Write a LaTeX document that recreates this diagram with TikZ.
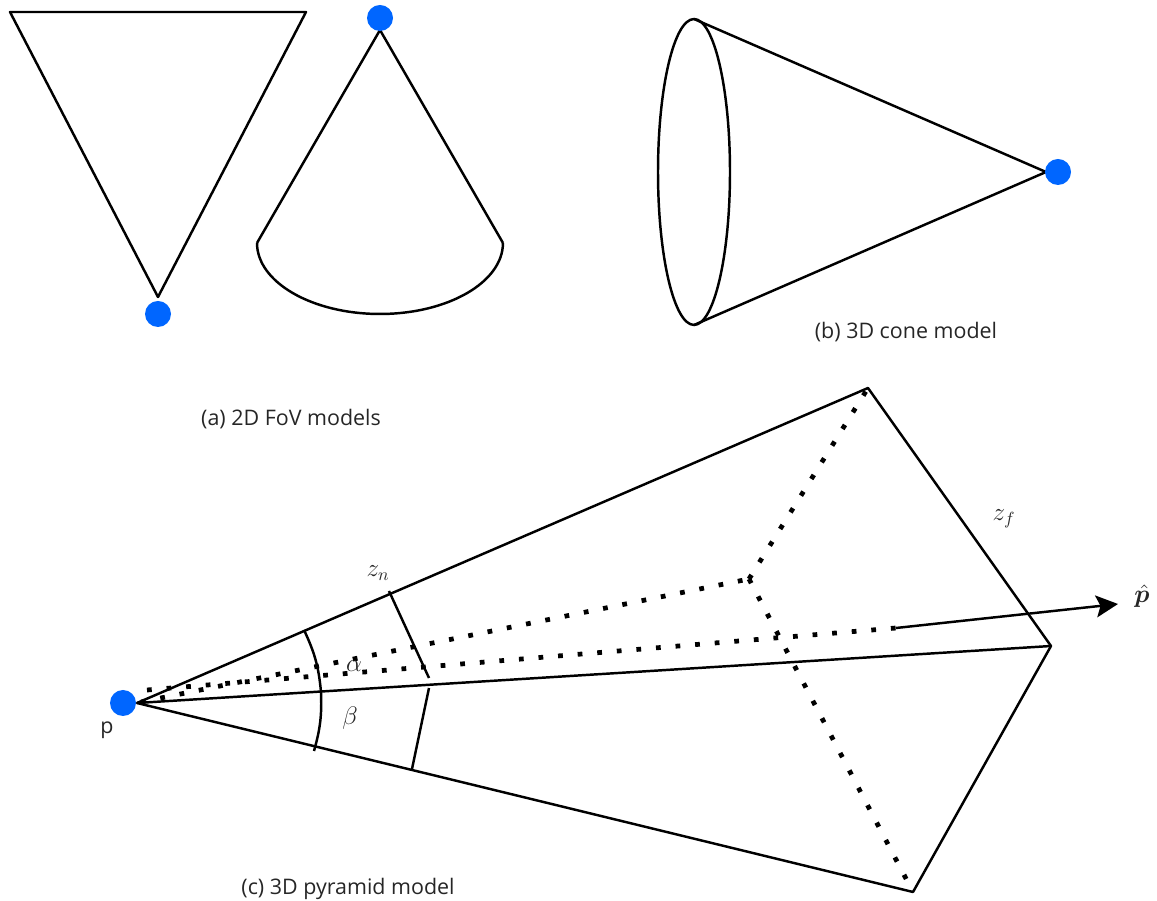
\documentclass[tikz,border=0pt]{standalone}
\usepackage{amsmath,bm}
\usepackage{fontspec}
\setmainfont{Open Sans}
\usetikzlibrary{arrows.meta}
\definecolor{pointblue}{RGB}{0,102,255}
\tikzset{
  modelline/.style={draw=black,line width=1.4pt,line join=round},
  dotline/.style={draw=black,line width=2.7pt,dash pattern=on 2.7pt off 8.48pt},
  axisarrow/.style={modelline,-{Stealth[length=12.5pt,width=12.5pt,inset=2.5pt]}},
  pointdot/.style={circle,fill=pointblue,inner sep=0pt,minimum size=14.8pt},
  caption/.style={font=\fontsize{12.2}{15}\selectfont,text=black!85,inner sep=0pt},
  mathlabel/.style={font=\fontsize{14}{17}\selectfont,text=black!85,inner sep=0pt}
}
\begin{document}
\begin{tikzpicture}[x=0.02cm,y=-0.02cm]
  \useasboundingbox (0,0) rectangle (1157,901);
  % (a) 2D FoV models
  \coordinate (triL) at (10,12);
  \coordinate (triR) at (306,12);
  \coordinate (triB) at (158,297);
  \draw[modelline] (triL) -- (triR) -- (triB) -- cycle;
  \node[pointdot] (triDot) at (158,314) {};
  \coordinate (secApex) at (380,30);
  \coordinate (secL) at (257,243);
  \coordinate (secR) at (503,243);
  \draw[modelline] (secL) -- (secApex) -- (secR);
  \draw[modelline] (secL) arc[start angle=180,end angle=360,x radius=2.46cm,y radius=1.42cm];
  \node[pointdot] (secDot) at (380,18) {};
  \node[caption] (capA) at (291,419) {(a) 2D FoV models};
  % (b) 3D cone model
  \coordinate (coneT) at (694,19);
  \coordinate (coneB) at (694,325);
  \coordinate (coneApex) at (1046,172);
  \draw[modelline] (694,172) ellipse[x radius=0.72cm,y radius=3.06cm];
  \draw[modelline] (coneT) -- (coneApex) -- (coneB);
  \node[pointdot] (coneDot) at (1058,172) {};
  \node[caption] (capB) at (906,332) {(b) 3D cone model};
  % (c) 3D pyramid model
  \coordinate (apex) at (137,703);
  \coordinate (top) at (868,388);
  \coordinate (right) at (1051,646);
  \coordinate (bottom) at (913,892);
  \coordinate (back) at (749,579);
  \coordinate (rayS) at (141,702);
  \coordinate (axisS) at (147,690);
  \coordinate (axisM) at (896,628);
  \coordinate (axisE) at (1118,604);
  \draw[dotline] (rayS) -- (back);
  \draw[dotline] (back) -- (top);
  \draw[dotline] (back) -- (bottom);
  \draw[dotline] (axisS) -- (axisM);
  \draw[axisarrow] (axisM) -- (axisE);
  \draw[modelline] (apex) -- (top) -- (right) -- (bottom) -- cycle;
  \draw[modelline] (apex) -- (right);
  \node[pointdot] (pDot) at (123,703) {};
  % angle arcs and near plane
  \coordinate (arcT) at (304,630);
  \coordinate (arcM) at (321,692);
  \coordinate (arcB) at (314,751);
  \draw[modelline] (arcT) to[bend left=10] (arcM);
  \draw[modelline] (arcM) to[bend left=9] (arcB);
  \coordinate (nearT) at (389,591);
  \coordinate (nearM) at (429,678);
  \coordinate (nearN) at (429,688);
  \coordinate (nearB) at (412,769);
  \draw[modelline] (nearT) -- (nearM);
  \draw[modelline] (nearN) -- (nearB);
  \node[mathlabel] (zn) at (378,573) {$z_n$};
  \node[mathlabel] (zf) at (1004,519) {$z_f$};
  \node[mathlabel] (alpha) at (354,666) {$\alpha$};
  \node[mathlabel] (beta) at (350,718) {$\beta$};
  \node[mathlabel] (phat) at (1142,596) {$\hat{\bm{p}}$};
  \node[caption] (pLabel) at (107,730) {p};
  \node[caption] (capC) at (348,889) {(c) 3D pyramid model};
\end{tikzpicture}
\end{document}
